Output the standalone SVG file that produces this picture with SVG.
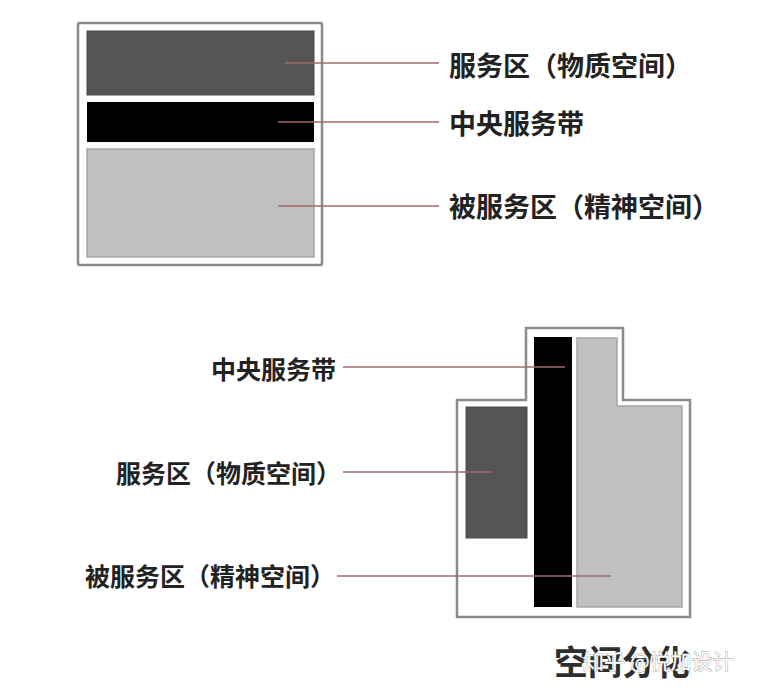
<svg xmlns="http://www.w3.org/2000/svg" width="757" height="691" viewBox="0 0 757 691">
<style>
.frame{fill:#fff;stroke:#8a8a8a;stroke-width:2.5}
.dark{fill:#555;stroke:#4a4a4a;stroke-width:1}
.black{fill:#000}
.light{fill:#c0c0c0;stroke:#a5a5a5;stroke-width:1.5}
.lead{stroke:#a06a6a;stroke-width:1.6;fill:none}
.lbl{font-family:"Noto Sans CJK SC","Noto Sans",sans-serif;font-weight:700;fill:#222;font-size:25px;dominant-baseline:central}
.lbl-top{font-size:27px}
.title{font-family:"Noto Sans CJK SC","Noto Sans",sans-serif;font-weight:700;fill:#2e2e2e;font-size:34px;dominant-baseline:central}
.wm{font-family:"Noto Sans CJK SC","Noto Sans",sans-serif;font-weight:400;fill:#fff;stroke:#9a9a9a;stroke-width:0.8;paint-order:stroke;font-size:21px;dominant-baseline:central}
</style>
<rect width="757" height="691" fill="#fff"/>
<g id="plan-top">
  <rect class="frame" x="78" y="23" width="244" height="242" rx="2"/>
  <rect id="top-service" class="dark" x="87" y="31" width="227" height="64"/>
  <rect id="top-band" class="black" x="87" y="102" width="227" height="40"/>
  <rect id="top-served" class="light" x="87" y="149" width="227" height="108"/>
</g>
<g id="plan-bottom">
  <path class="frame" d="M457,400 L526,400 L526,328 L623,328 L623,400 L690,400 L690,617 L457,617 Z"/>
  <rect id="bot-service" class="dark" x="466" y="407" width="61" height="131"/>
  <rect id="bot-band" class="black" x="534" y="337" width="38" height="270"/>
  <path id="bot-served" class="light" d="M577,338 L617,338 L617,406 L682,406 L682,607 L577,607 Z"/>
</g>
<g id="connectors">
  <line class="lead" x1="285" y1="63" x2="439" y2="63"/>
  <line class="lead" x1="278" y1="122" x2="439" y2="122"/>
  <line class="lead" x1="278" y1="206" x2="439" y2="206"/>
  <line class="lead" x1="343" y1="367" x2="565" y2="367"/>
  <line class="lead" x1="343" y1="472" x2="492" y2="472"/>
  <line class="lead" x1="337" y1="576" x2="611" y2="576"/>
</g>
<g id="labels-top">
  <text class="lbl lbl-top" x="449" y="64">服务区（物质空间）</text>
  <text class="lbl lbl-top" x="449" y="122">中央服务带</text>
  <text class="lbl lbl-top" x="449" y="205">被服务区（精神空间）</text>
</g>
<g id="labels-bottom">
  <text class="lbl" x="336" y="368" text-anchor="end">中央服务带</text>
  <text class="lbl" x="341" y="472" text-anchor="end">服务区（物质空间）</text>
  <text class="lbl" x="335" y="575" text-anchor="end">被服务区（精神空间）</text>
</g>
<g id="caption">
  <text class="title" x="554" y="660">空间分化</text>
  <text class="wm" x="583" y="660">知乎 @悦加设计</text>
</g>
</svg>
